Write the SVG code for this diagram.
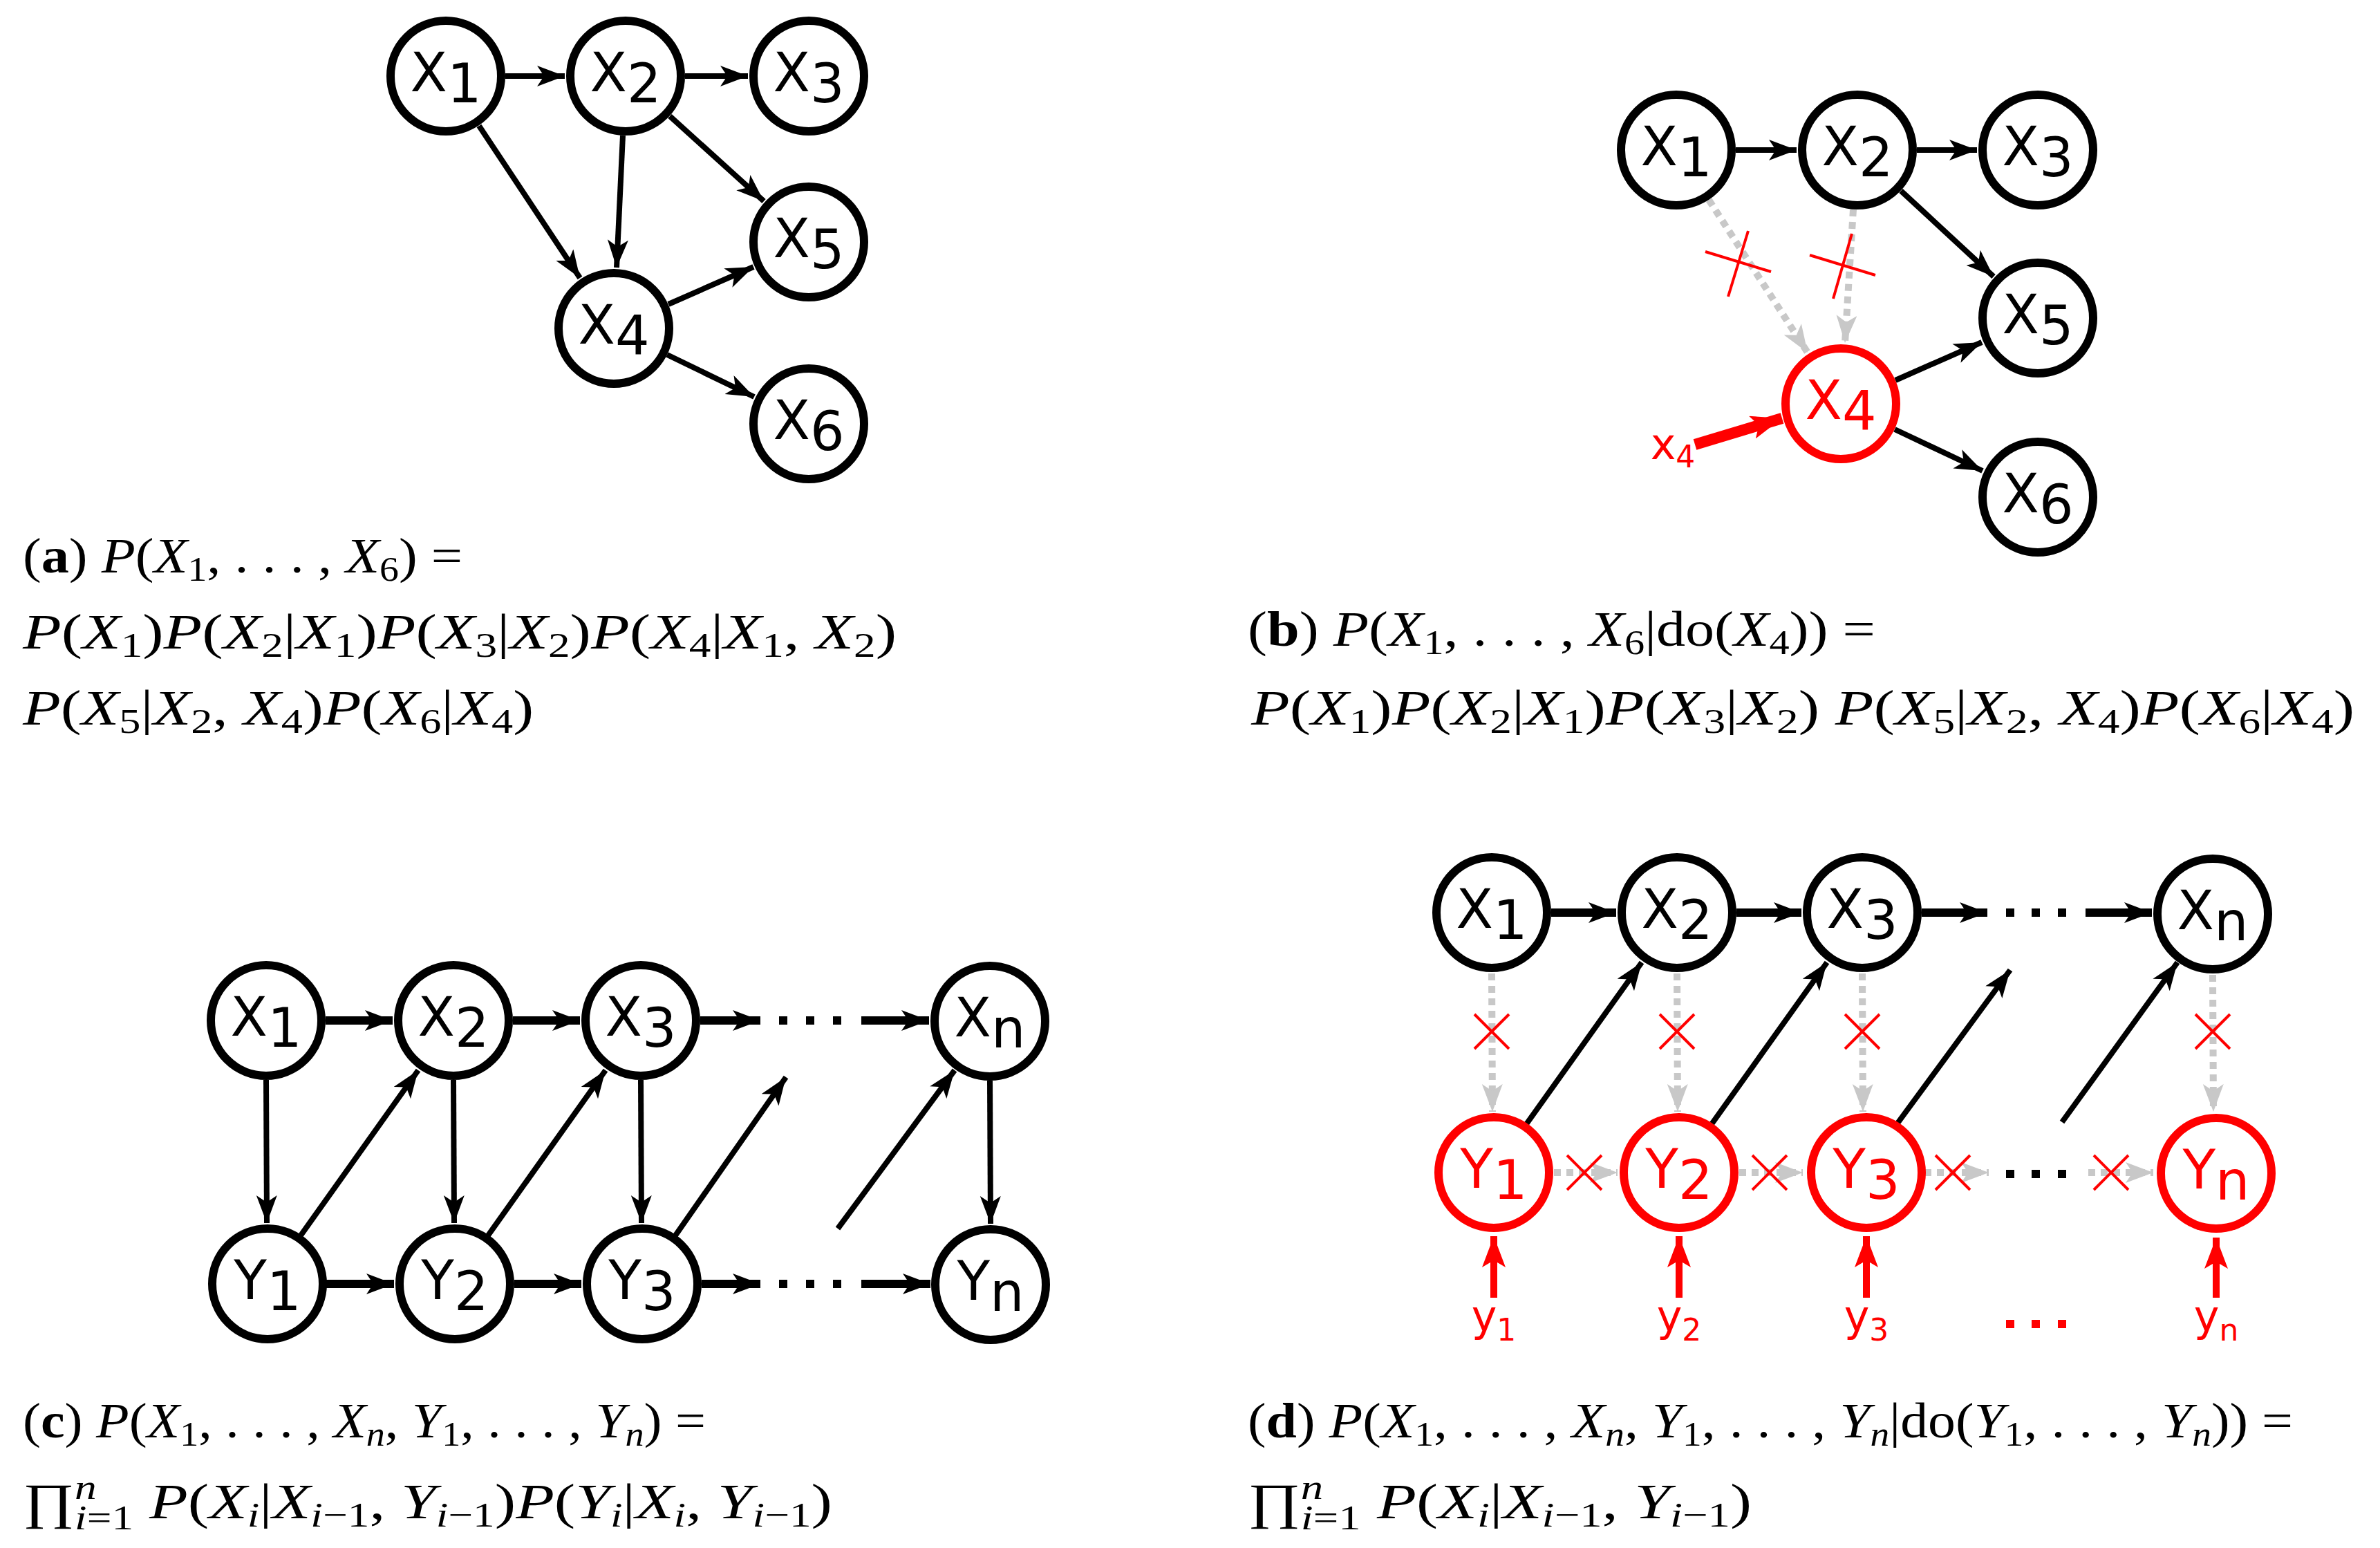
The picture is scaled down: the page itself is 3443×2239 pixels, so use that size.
<svg xmlns="http://www.w3.org/2000/svg" width="3443" height="2239" viewBox="0 0 3443 2239">
<style>
.n{fill:#fff;stroke:#000;stroke-width:12}
.r{fill:#fff;stroke:#f00;stroke-width:12}
.t{font-family:"DejaVu Sans",sans-serif;font-size:78px;text-anchor:middle;fill:#000}
.tr{font-family:"DejaVu Sans",sans-serif;font-size:78px;text-anchor:middle;fill:#f00}
.e{stroke:#000;stroke-width:8;fill:none}
.eh{stroke:#000;stroke-width:12;fill:none}
.g{stroke:#c8c8c8;stroke-width:10;stroke-dasharray:10 8;fill:none}
.re{stroke:#f00;stroke-width:10;fill:none}
.cx{stroke:#f00;stroke-width:4;fill:none}
.cap{font-family:"Liberation Serif","Times New Roman",serif;font-size:72px;fill:#000}
.it{font-style:italic}
.sb{font-size:50px}
.lab{font-family:"DejaVu Sans",sans-serif;font-size:62px;fill:#f00;text-anchor:middle}
</style>
<defs>
<marker id="ab" markerUnits="userSpaceOnUse" markerWidth="50" markerHeight="40" refX="40" refY="15" orient="auto"><path d="M0,0 L40,15 L0,30 L10,15 Z" fill="#000"/></marker>
<marker id="ag" markerUnits="userSpaceOnUse" markerWidth="50" markerHeight="40" refX="40" refY="15" orient="auto"><path d="M0,0 L40,15 L0,30 L10,15 Z" fill="#c8c8c8"/></marker>
<marker id="ar" markerUnits="userSpaceOnUse" markerWidth="60" markerHeight="40" refX="45" refY="17" orient="auto"><path d="M0,0 L45,17 L0,34 L10,17 Z" fill="#f00"/></marker>
</defs>
<g id="connectors">
<line class="e" x1="731" y1="110" x2="817" y2="110" marker-end="url(#ab)"/>
<line class="e" x1="991" y1="110" x2="1082" y2="110" marker-end="url(#ab)"/>
<line class="e" x1="693" y1="182" x2="839" y2="402" marker-end="url(#ab)"/>
<line class="e" x1="901" y1="196" x2="892" y2="387" marker-end="url(#ab)"/>
<line class="e" x1="969" y1="168" x2="1105" y2="291" marker-end="url(#ab)"/>
<line class="e" x1="967" y1="440" x2="1090" y2="386" marker-end="url(#ab)"/>
<line class="e" x1="965" y1="513" x2="1091" y2="574" marker-end="url(#ab)"/>
<line class="e" x1="2511" y1="217" x2="2599" y2="217" marker-end="url(#ab)"/>
<line class="e" x1="2773" y1="217" x2="2860" y2="217" marker-end="url(#ab)"/>
<line class="e" x1="2750" y1="276" x2="2884" y2="400" marker-end="url(#ab)"/>
<line class="e" x1="2742" y1="550" x2="2867" y2="495" marker-end="url(#ab)"/>
<line class="e" x1="2741" y1="621" x2="2868" y2="681" marker-end="url(#ab)"/>
<line class="g" x1="2472" y1="289" x2="2615" y2="510" marker-end="url(#ag)"/>
<line class="g" x1="2681" y1="303" x2="2669" y2="496" marker-end="url(#ag)"/>
<line stroke="#f00" stroke-width="16" x1="2452" y1="643" x2="2578" y2="605" marker-end="url(#ar)"/>
<line class="cx" x1="2467" y1="364" x2="2562" y2="393"/><line class="cx" x1="2529" y1="334" x2="2500" y2="429"/>
<line class="cx" x1="2618" y1="369" x2="2713" y2="398"/><line class="cx" x1="2679" y1="338" x2="2652" y2="432"/>
<line class="eh" x1="471" y1="1476" x2="568" y2="1476" marker-end="url(#ab)"/>
<line class="eh" x1="742" y1="1476" x2="839" y2="1476" marker-end="url(#ab)"/>
<line class="eh" x1="1013" y1="1476" x2="1100" y2="1476" marker-end="url(#ab)"/>
<line class="eh" x1="1246" y1="1476" x2="1344" y2="1476" marker-end="url(#ab)"/>
<line class="eh" x1="471" y1="1857" x2="570" y2="1857" marker-end="url(#ab)"/>
<line class="eh" x1="744" y1="1857" x2="841" y2="1857" marker-end="url(#ab)"/>
<line class="eh" x1="1015" y1="1857" x2="1100" y2="1857" marker-end="url(#ab)"/>
<line class="eh" x1="1246" y1="1857" x2="1346" y2="1857" marker-end="url(#ab)"/>
<line class="e" x1="385" y1="1562" x2="386" y2="1769" marker-end="url(#ab)"/>
<line class="e" x1="656" y1="1562" x2="657" y2="1769" marker-end="url(#ab)"/>
<line class="e" x1="927" y1="1562" x2="928" y2="1769" marker-end="url(#ab)"/>
<line class="e" x1="1432" y1="1563" x2="1433" y2="1770" marker-end="url(#ab)"/>
<line class="e" x1="435" y1="1787" x2="605" y2="1548" marker-end="url(#ab)"/>
<line class="e" x1="706" y1="1787" x2="876" y2="1548" marker-end="url(#ab)"/>
<line class="e" x1="977" y1="1787" x2="1137" y2="1558" marker-end="url(#ab)"/>
<line class="e" x1="1212" y1="1777" x2="1381" y2="1548" marker-end="url(#ab)"/>
<g fill="#000"><rect x="1127" y="1470" width="12" height="12"/><rect x="1166" y="1470" width="12" height="12"/><rect x="1205" y="1470" width="12" height="12"/>
<rect x="1127" y="1851" width="12" height="12"/><rect x="1166" y="1851" width="12" height="12"/><rect x="1205" y="1851" width="12" height="12"/></g>
<line class="eh" x1="2244" y1="1320" x2="2338" y2="1320" marker-end="url(#ab)"/>
<line class="eh" x1="2512" y1="1320" x2="2606" y2="1320" marker-end="url(#ab)"/>
<line class="eh" x1="2780" y1="1320" x2="2875" y2="1320" marker-end="url(#ab)"/>
<line class="eh" x1="3017" y1="1320" x2="3113" y2="1320" marker-end="url(#ab)"/>
<line class="e" x1="2208" y1="1626" x2="2375" y2="1392" marker-end="url(#ab)"/>
<line class="e" x1="2476" y1="1626" x2="2643" y2="1392" marker-end="url(#ab)"/>
<line class="e" x1="2744" y1="1626" x2="2908" y2="1403" marker-end="url(#ab)"/>
<line class="e" x1="2983" y1="1623" x2="3150" y2="1392" marker-end="url(#ab)"/>
<line class="g" x1="2158" y1="1408" x2="2159" y2="1608" marker-end="url(#ag)"/>
<line class="g" x1="2426" y1="1408" x2="2427" y2="1608" marker-end="url(#ag)"/>
<line class="g" x1="2694" y1="1408" x2="2695" y2="1608" marker-end="url(#ag)"/>
<line class="g" x1="3201" y1="1410" x2="3202" y2="1608" marker-end="url(#ag)"/>
<line class="g" x1="2248" y1="1696" x2="2340" y2="1696" marker-end="url(#ag)"/>
<line class="g" x1="2516" y1="1696" x2="2608" y2="1696" marker-end="url(#ag)"/>
<line class="g" x1="2784" y1="1696" x2="2877" y2="1696" marker-end="url(#ag)"/>
<line class="g" x1="3021" y1="1696" x2="3115" y2="1696" marker-end="url(#ag)"/>
<g class="cx">
<path d="M2133,1467 L2183,1517 M2183,1467 L2133,1517"/>
<path d="M2401,1467 L2451,1517 M2451,1467 L2401,1517"/>
<path d="M2669,1467 L2719,1517 M2719,1467 L2669,1517"/>
<path d="M3176,1467 L3226,1517 M3226,1467 L3176,1517"/>
<path d="M2267,1671 L2317,1721 M2317,1671 L2267,1721"/>
<path d="M2535,1671 L2585,1721 M2585,1671 L2535,1721"/>
<path d="M2800,1671 L2850,1721 M2850,1671 L2800,1721"/>
<path d="M3029,1671 L3079,1721 M3079,1671 L3029,1721"/>
</g>
<line class="re" x1="2161" y1="1877" x2="2161" y2="1788" marker-end="url(#ar)"/>
<line class="re" x1="2429" y1="1877" x2="2429" y2="1788" marker-end="url(#ar)"/>
<line class="re" x1="2700" y1="1877" x2="2700" y2="1788" marker-end="url(#ar)"/>
<line class="re" x1="3206" y1="1877" x2="3206" y2="1790" marker-end="url(#ar)"/>
<g fill="#000"><rect x="2902" y="1314" width="12" height="12"/><rect x="2939" y="1314" width="12" height="12"/><rect x="2977" y="1314" width="12" height="12"/>
<rect x="2902" y="1692" width="12" height="12"/><rect x="2939" y="1692" width="12" height="12"/><rect x="2977" y="1692" width="12" height="12"/></g>
<g fill="#f00"><rect x="2902" y="1909" width="12" height="12"/><rect x="2939" y="1909" width="12" height="12"/><rect x="2977" y="1909" width="12" height="12"/></g>
</g>
<g id="a-X1"><circle class="n" cx="645" cy="110" r="80"/><text class="t" x="645" y="132">X<tspan dy="16">1</tspan></text></g>
<g id="a-X2"><circle class="n" cx="905" cy="110" r="80"/><text class="t" x="905" y="132">X<tspan dy="16">2</tspan></text></g>
<g id="a-X3"><circle class="n" cx="1170" cy="110" r="80"/><text class="t" x="1170" y="132">X<tspan dy="16">3</tspan></text></g>
<g id="a-X4"><circle class="n" cx="888" cy="475" r="80"/><text class="t" x="888" y="497">X<tspan dy="16">4</tspan></text></g>
<g id="a-X5"><circle class="n" cx="1170" cy="350" r="80"/><text class="t" x="1170" y="372">X<tspan dy="16">5</tspan></text></g>
<g id="a-X6"><circle class="n" cx="1170" cy="613" r="80"/><text class="t" x="1170" y="635">X<tspan dy="16">6</tspan></text></g>
<g id="b-X1"><circle class="n" cx="2425" cy="217" r="80"/><text class="t" x="2425" y="239">X<tspan dy="16">1</tspan></text></g>
<g id="b-X2"><circle class="n" cx="2687" cy="217" r="80"/><text class="t" x="2687" y="239">X<tspan dy="16">2</tspan></text></g>
<g id="b-X3"><circle class="n" cx="2948" cy="217" r="80"/><text class="t" x="2948" y="239">X<tspan dy="16">3</tspan></text></g>
<g id="b-X4"><circle class="r" cx="2663" cy="584" r="80"/><text class="tr" x="2663" y="606">X<tspan dy="16">4</tspan></text></g>
<g id="b-X5"><circle class="n" cx="2948" cy="460" r="80"/><text class="t" x="2948" y="482">X<tspan dy="16">5</tspan></text></g>
<g id="b-X6"><circle class="n" cx="2948" cy="719" r="80"/><text class="t" x="2948" y="741">X<tspan dy="16">6</tspan></text></g>
<g id="b-x4lab"><text class="lab" x="2420" y="664">x<tspan font-size="44" dy="12">4</tspan></text></g>
<g id="c-X1"><circle class="n" cx="385" cy="1476" r="80"/><text class="t" x="385" y="1498">X<tspan dy="16">1</tspan></text></g>
<g id="c-X2"><circle class="n" cx="656" cy="1476" r="80"/><text class="t" x="656" y="1498">X<tspan dy="16">2</tspan></text></g>
<g id="c-X3"><circle class="n" cx="927" cy="1476" r="80"/><text class="t" x="927" y="1498">X<tspan dy="16">3</tspan></text></g>
<g id="c-Xn"><circle class="n" cx="1432" cy="1477" r="80"/><text class="t" x="1432" y="1499">X<tspan dy="16">n</tspan></text></g>
<g id="c-Y1"><circle class="n" cx="387" cy="1857" r="80"/><text class="t" x="387" y="1879">Y<tspan dy="16">1</tspan></text></g>
<g id="c-Y2"><circle class="n" cx="658" cy="1857" r="80"/><text class="t" x="658" y="1879">Y<tspan dy="16">2</tspan></text></g>
<g id="c-Y3"><circle class="n" cx="929" cy="1857" r="80"/><text class="t" x="929" y="1879">Y<tspan dy="16">3</tspan></text></g>
<g id="c-Yn"><circle class="n" cx="1433" cy="1858" r="80"/><text class="t" x="1433" y="1880">Y<tspan dy="16">n</tspan></text></g>
<g id="d-X1"><circle class="n" cx="2158" cy="1320" r="80"/><text class="t" x="2158" y="1342">X<tspan dy="16">1</tspan></text></g>
<g id="d-X2"><circle class="n" cx="2426" cy="1320" r="80"/><text class="t" x="2426" y="1342">X<tspan dy="16">2</tspan></text></g>
<g id="d-X3"><circle class="n" cx="2694" cy="1320" r="80"/><text class="t" x="2694" y="1342">X<tspan dy="16">3</tspan></text></g>
<g id="d-Xn"><circle class="n" cx="3201" cy="1322" r="80"/><text class="t" x="3201" y="1344">X<tspan dy="16">n</tspan></text></g>
<g id="d-Y1"><circle class="r" cx="2161" cy="1696" r="80"/><text class="tr" x="2161" y="1718">Y<tspan dy="16">1</tspan></text></g>
<g id="d-Y2"><circle class="r" cx="2429" cy="1696" r="80"/><text class="tr" x="2429" y="1718">Y<tspan dy="16">2</tspan></text></g>
<g id="d-Y3"><circle class="r" cx="2700" cy="1696" r="80"/><text class="tr" x="2700" y="1718">Y<tspan dy="16">3</tspan></text></g>
<g id="d-Yn"><circle class="r" cx="3206" cy="1697" r="80"/><text class="tr" x="3206" y="1719">Y<tspan dy="16">n</tspan></text></g>
<g id="d-labels">
<text class="lab" x="2161" y="1925">y<tspan font-size="44" dy="14">1</tspan></text>
<text class="lab" x="2429" y="1925">y<tspan font-size="44" dy="14">2</tspan></text>
<text class="lab" x="2700" y="1925">y<tspan font-size="44" dy="14">3</tspan></text>
<text class="lab" x="3206" y="1925">y<tspan font-size="44" dy="14">n</tspan></text>
</g>
<g id="captions">
<text class="cap" x="33" y="828" textLength="636" lengthAdjust="spacingAndGlyphs">(<tspan font-weight="bold">a</tspan>) <tspan class="it">P</tspan>(<tspan class="it">X</tspan><tspan class="sb" dy="12">1</tspan><tspan dy="-12">, . . . , </tspan><tspan class="it">X</tspan><tspan class="sb" dy="12">6</tspan><tspan dy="-12">) =</tspan></text>
<text class="cap" x="33" y="938" textLength="1264" lengthAdjust="spacingAndGlyphs"><tspan class="it">P</tspan>(<tspan class="it">X</tspan><tspan class="sb" dy="12">1</tspan><tspan dy="-12">)</tspan><tspan class="it">P</tspan>(<tspan class="it">X</tspan><tspan class="sb" dy="12">2</tspan><tspan dy="-12">|</tspan><tspan class="it">X</tspan><tspan class="sb" dy="12">1</tspan><tspan dy="-12">)</tspan><tspan class="it">P</tspan>(<tspan class="it">X</tspan><tspan class="sb" dy="12">3</tspan><tspan dy="-12">|</tspan><tspan class="it">X</tspan><tspan class="sb" dy="12">2</tspan><tspan dy="-12">)</tspan><tspan class="it">P</tspan>(<tspan class="it">X</tspan><tspan class="sb" dy="12">4</tspan><tspan dy="-12">|</tspan><tspan class="it">X</tspan><tspan class="sb" dy="12">1</tspan><tspan dy="-12">, </tspan><tspan class="it">X</tspan><tspan class="sb" dy="12">2</tspan><tspan dy="-12">)</tspan></text>
<text class="cap" x="33" y="1048" textLength="739" lengthAdjust="spacingAndGlyphs"><tspan class="it">P</tspan>(<tspan class="it">X</tspan><tspan class="sb" dy="12">5</tspan><tspan dy="-12">|</tspan><tspan class="it">X</tspan><tspan class="sb" dy="12">2</tspan><tspan dy="-12">, </tspan><tspan class="it">X</tspan><tspan class="sb" dy="12">4</tspan><tspan dy="-12">)</tspan><tspan class="it">P</tspan>(<tspan class="it">X</tspan><tspan class="sb" dy="12">6</tspan><tspan dy="-12">|</tspan><tspan class="it">X</tspan><tspan class="sb" dy="12">4</tspan><tspan dy="-12">)</tspan></text>
<text class="cap" x="1805" y="934" textLength="908" lengthAdjust="spacingAndGlyphs">(<tspan font-weight="bold">b</tspan>) <tspan class="it">P</tspan>(<tspan class="it">X</tspan><tspan class="sb" dy="12">1</tspan><tspan dy="-12">, . . . , </tspan><tspan class="it">X</tspan><tspan class="sb" dy="12">6</tspan><tspan dy="-12">|do(</tspan><tspan class="it">X</tspan><tspan class="sb" dy="12">4</tspan><tspan dy="-12">)) =</tspan></text>
<text class="cap" x="1810" y="1048" textLength="1596" lengthAdjust="spacingAndGlyphs"><tspan class="it">P</tspan>(<tspan class="it">X</tspan><tspan class="sb" dy="12">1</tspan><tspan dy="-12">)</tspan><tspan class="it">P</tspan>(<tspan class="it">X</tspan><tspan class="sb" dy="12">2</tspan><tspan dy="-12">|</tspan><tspan class="it">X</tspan><tspan class="sb" dy="12">1</tspan><tspan dy="-12">)</tspan><tspan class="it">P</tspan>(<tspan class="it">X</tspan><tspan class="sb" dy="12">3</tspan><tspan dy="-12">|</tspan><tspan class="it">X</tspan><tspan class="sb" dy="12">2</tspan><tspan dy="-12">) </tspan><tspan class="it">P</tspan>(<tspan class="it">X</tspan><tspan class="sb" dy="12">5</tspan><tspan dy="-12">|</tspan><tspan class="it">X</tspan><tspan class="sb" dy="12">2</tspan><tspan dy="-12">, </tspan><tspan class="it">X</tspan><tspan class="sb" dy="12">4</tspan><tspan dy="-12">)</tspan><tspan class="it">P</tspan>(<tspan class="it">X</tspan><tspan class="sb" dy="12">6</tspan><tspan dy="-12">|</tspan><tspan class="it">X</tspan><tspan class="sb" dy="12">4</tspan><tspan dy="-12">)</tspan></text>
<text class="cap" x="33" y="2079" textLength="988" lengthAdjust="spacingAndGlyphs">(<tspan font-weight="bold">c</tspan>) <tspan class="it">P</tspan>(<tspan class="it">X</tspan><tspan class="sb" dy="12">1</tspan><tspan dy="-12">, . . . , </tspan><tspan class="it">X</tspan><tspan class="sb it" dy="12">n</tspan><tspan dy="-12">, </tspan><tspan class="it">Y</tspan><tspan class="sb" dy="12">1</tspan><tspan dy="-12">, . . . , </tspan><tspan class="it">Y</tspan><tspan class="sb it" dy="12">n</tspan><tspan dy="-12">) =</tspan></text>
<text class="cap" x="33" y="2196" textLength="1171" lengthAdjust="spacingAndGlyphs">∏<tspan class="sb it" dy="-28">n</tspan><tspan class="sb" dx="-25" dy="44"><tspan class="it">i</tspan>=1</tspan><tspan dy="-16"> </tspan><tspan class="it">P</tspan>(<tspan class="it">X</tspan><tspan class="sb it" dy="12">i</tspan><tspan dy="-12">|</tspan><tspan class="it">X</tspan><tspan class="sb" dy="12"><tspan class="it">i</tspan>−1</tspan><tspan dy="-12">, </tspan><tspan class="it">Y</tspan><tspan class="sb" dy="12"><tspan class="it">i</tspan>−1</tspan><tspan dy="-12">)</tspan><tspan class="it">P</tspan>(<tspan class="it">Y</tspan><tspan class="sb it" dy="12">i</tspan><tspan dy="-12">|</tspan><tspan class="it">X</tspan><tspan class="sb it" dy="12">i</tspan><tspan dy="-12">, </tspan><tspan class="it">Y</tspan><tspan class="sb" dy="12"><tspan class="it">i</tspan>−1</tspan><tspan dy="-12">)</tspan></text>
<text class="cap" x="1805" y="2079" textLength="1512" lengthAdjust="spacingAndGlyphs">(<tspan font-weight="bold">d</tspan>) <tspan class="it">P</tspan>(<tspan class="it">X</tspan><tspan class="sb" dy="12">1</tspan><tspan dy="-12">, . . . , </tspan><tspan class="it">X</tspan><tspan class="sb it" dy="12">n</tspan><tspan dy="-12">, </tspan><tspan class="it">Y</tspan><tspan class="sb" dy="12">1</tspan><tspan dy="-12">, . . . , </tspan><tspan class="it">Y</tspan><tspan class="sb it" dy="12">n</tspan><tspan dy="-12">|do(</tspan><tspan class="it">Y</tspan><tspan class="sb" dy="12">1</tspan><tspan dy="-12">, . . . , </tspan><tspan class="it">Y</tspan><tspan class="sb it" dy="12">n</tspan><tspan dy="-12">)) =</tspan></text>
<text class="cap" x="1805" y="2196" textLength="729" lengthAdjust="spacingAndGlyphs">∏<tspan class="sb it" dy="-28">n</tspan><tspan class="sb" dx="-25" dy="44"><tspan class="it">i</tspan>=1</tspan><tspan dy="-16"> </tspan><tspan class="it">P</tspan>(<tspan class="it">X</tspan><tspan class="sb it" dy="12">i</tspan><tspan dy="-12">|</tspan><tspan class="it">X</tspan><tspan class="sb" dy="12"><tspan class="it">i</tspan>−1</tspan><tspan dy="-12">, </tspan><tspan class="it">Y</tspan><tspan class="sb" dy="12"><tspan class="it">i</tspan>−1</tspan><tspan dy="-12">)</tspan></text>
</g>
</svg>
